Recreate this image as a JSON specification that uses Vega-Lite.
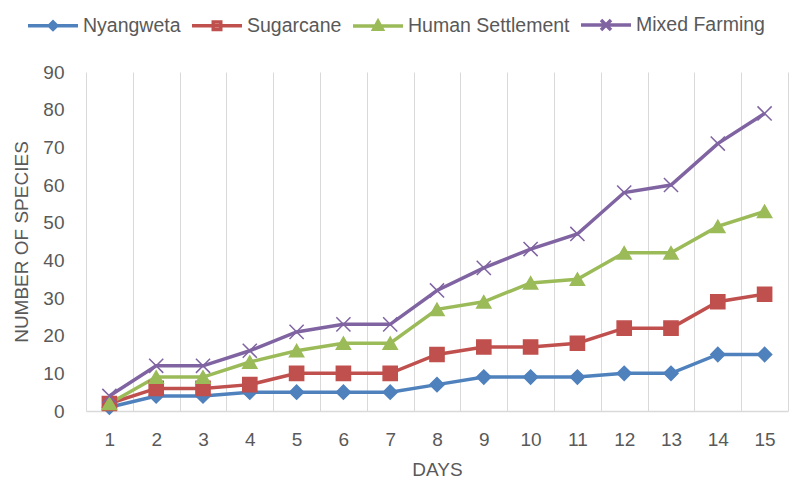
{
  "$schema": "https://vega.github.io/schema/vega-lite/v6.json",
  "width": 702,
  "height": 339,
  "autosize": {"type": "none"},
  "padding": {"left": 86, "top": 72, "right": 3, "bottom": 71},
  "background": "white",
  "config": {
    "font": "Liberation Sans",
    "view": {"stroke": null},
    "axis": {"labelColor": "#595959", "titleColor": "#595959", "labelFontSize": 19, "titleFontSize": 19, "titleFontWeight": "normal", "labelFont": "Liberation Sans", "titleFont": "Liberation Sans"}
  },
  "data": {
    "values": [
      {"day": 1, "series": "Nyangweta", "value": 1},
      {"day": 2, "series": "Nyangweta", "value": 4},
      {"day": 3, "series": "Nyangweta", "value": 4},
      {"day": 4, "series": "Nyangweta", "value": 5},
      {"day": 5, "series": "Nyangweta", "value": 5},
      {"day": 6, "series": "Nyangweta", "value": 5},
      {"day": 7, "series": "Nyangweta", "value": 5},
      {"day": 8, "series": "Nyangweta", "value": 7},
      {"day": 9, "series": "Nyangweta", "value": 9},
      {"day": 10, "series": "Nyangweta", "value": 9},
      {"day": 11, "series": "Nyangweta", "value": 9},
      {"day": 12, "series": "Nyangweta", "value": 10},
      {"day": 13, "series": "Nyangweta", "value": 10},
      {"day": 14, "series": "Nyangweta", "value": 15},
      {"day": 15, "series": "Nyangweta", "value": 15},
      {"day": 1, "series": "Sugarcane", "value": 2},
      {"day": 2, "series": "Sugarcane", "value": 6},
      {"day": 3, "series": "Sugarcane", "value": 6},
      {"day": 4, "series": "Sugarcane", "value": 7},
      {"day": 5, "series": "Sugarcane", "value": 10},
      {"day": 6, "series": "Sugarcane", "value": 10},
      {"day": 7, "series": "Sugarcane", "value": 10},
      {"day": 8, "series": "Sugarcane", "value": 15},
      {"day": 9, "series": "Sugarcane", "value": 17},
      {"day": 10, "series": "Sugarcane", "value": 17},
      {"day": 11, "series": "Sugarcane", "value": 18},
      {"day": 12, "series": "Sugarcane", "value": 22},
      {"day": 13, "series": "Sugarcane", "value": 22},
      {"day": 14, "series": "Sugarcane", "value": 29},
      {"day": 15, "series": "Sugarcane", "value": 31},
      {"day": 1, "series": "Human Settlement", "value": 2},
      {"day": 2, "series": "Human Settlement", "value": 9},
      {"day": 3, "series": "Human Settlement", "value": 9},
      {"day": 4, "series": "Human Settlement", "value": 13},
      {"day": 5, "series": "Human Settlement", "value": 16},
      {"day": 6, "series": "Human Settlement", "value": 18},
      {"day": 7, "series": "Human Settlement", "value": 18},
      {"day": 8, "series": "Human Settlement", "value": 27},
      {"day": 9, "series": "Human Settlement", "value": 29},
      {"day": 10, "series": "Human Settlement", "value": 34},
      {"day": 11, "series": "Human Settlement", "value": 35},
      {"day": 12, "series": "Human Settlement", "value": 42},
      {"day": 13, "series": "Human Settlement", "value": 42},
      {"day": 14, "series": "Human Settlement", "value": 49},
      {"day": 15, "series": "Human Settlement", "value": 53},
      {"day": 1, "series": "Mixed Farming", "value": 4},
      {"day": 2, "series": "Mixed Farming", "value": 12},
      {"day": 3, "series": "Mixed Farming", "value": 12},
      {"day": 4, "series": "Mixed Farming", "value": 16},
      {"day": 5, "series": "Mixed Farming", "value": 21},
      {"day": 6, "series": "Mixed Farming", "value": 23},
      {"day": 7, "series": "Mixed Farming", "value": 23},
      {"day": 8, "series": "Mixed Farming", "value": 32},
      {"day": 9, "series": "Mixed Farming", "value": 38},
      {"day": 10, "series": "Mixed Farming", "value": 43},
      {"day": 11, "series": "Mixed Farming", "value": 47},
      {"day": 12, "series": "Mixed Farming", "value": 58},
      {"day": 13, "series": "Mixed Farming", "value": 60},
      {"day": 14, "series": "Mixed Farming", "value": 71},
      {"day": 15, "series": "Mixed Farming", "value": 79}
    ]
  },
  "encoding": {
    "x": {
      "field": "day", "type": "ordinal", "bandPosition": 0.5,
      "scale": {"type": "band", "paddingInner": 0, "paddingOuter": 0},
      "axis": {"title": "DAYS", "labelAngle": 0, "tickBand": "extent", "ticks": false, "grid": true, "gridColor": "#d9d9d9", "gridWidth": 1, "domainColor": "#d9d9d9", "domainWidth": 1.5, "labelPadding": 19, "titlePadding": 11}
    },
    "y": {
      "field": "value", "type": "quantitative",
      "scale": {"domain": [0, 90], "nice": false},
      "axis": {"title": "NUMBER OF SPECIES", "values": [0, 10, 20, 30, 40, 50, 60, 70, 80, 90], "grid": false, "ticks": false, "domain": false, "labelPadding": 22, "titlePadding": 11}
    }
  },
  "layer": [
    {
      "mark": {"type": "line", "strokeWidth": 3.5},
      "encoding": {
        "color": {"field": "series", "type": "nominal", "sort": ["Nyangweta", "Sugarcane", "Human Settlement", "Mixed Farming"],
          "scale": {"domain": ["Nyangweta", "Sugarcane", "Human Settlement", "Mixed Farming"], "range": ["#4F81BD", "#C0504D", "#9BBB59", "#8064A2"]}, "legend": null}
      }
    },
    {
      "mark": {"type": "point", "filled": true, "size": 200, "strokeWidth": 1.5, "opacity": 1},
      "encoding": {
        "color": {"field": "series", "type": "nominal", "legend": null},
        "stroke": {"field": "series", "type": "nominal", "legend": null,
          "scale": {"domain": ["Nyangweta", "Sugarcane", "Human Settlement", "Mixed Farming"], "range": ["#4F81BD", "#C0504D", "#9BBB59", "#8064A2"]}},
        "shape": {"field": "series", "type": "nominal", "legend": null,
          "scale": {"domain": ["Nyangweta", "Sugarcane", "Human Settlement", "Mixed Farming"], "range": ["diamond", "square", "triangle-up", "M-1,-1L1,1M-1,1L1,-1"]}}
      }
    },
    {
      "mark": {"type": "point", "filled": true, "size": 100, "opacity": 0},
      "encoding": {
        "color": {"field": "series", "type": "nominal",
          "legend": {"orient": "none", "direction": "horizontal", "legendX": -60, "legendY": -74, "title": null, "symbolSize": 2500, "symbolStrokeWidth": 3.5, "symbolOpacity": 1, "labelFontSize": 19.5, "labelFont": "Liberation Sans", "labelColor": "#595959", "labelOffset": 3, "columnPadding": 4, "padding": 0, "labelLimit": 300}},
        "stroke": {"field": "series", "type": "nominal"},
        "shape": {"field": "series", "type": "nominal",
          "scale": {"domain": ["Nyangweta", "Sugarcane", "Human Settlement", "Mixed Farming"], "range": ["M-1,0H1M0,-0.15L0.15,0L0,0.15L-0.15,0Z", "M-1,0H1M-0.15,-0.15H0.15V0.15H-0.15Z", "M-1,0H1M0,-0.18L0.17,0.13H-0.17Z", "M-1,0H1M-0.2,-0.2L0.2,0.2M-0.2,0.2L0.2,-0.2"]}}
      }
    }
  ],
  "resolve": {"scale": {"shape": "independent"}, "legend": {"shape": "independent", "color": "independent", "stroke": "independent"}}
}
